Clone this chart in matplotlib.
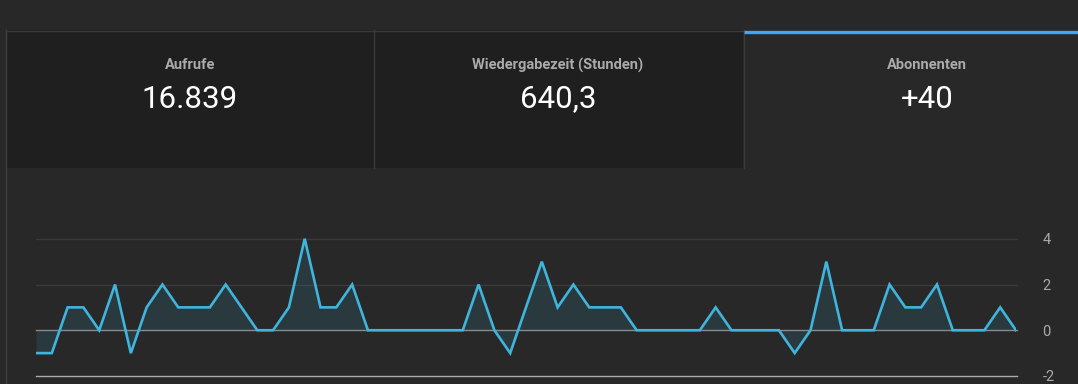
import matplotlib.pyplot as plt
import matplotlib.patches as patches
import numpy as np

# daily subscriber change
subs_per_day = [-1, -1, 1, 1, 0, 2, -1, 1, 2, 1, 1, 1, 2, 1, 0, 0, 1, 4, 1, 1,
                2, 0, 0, 0, 0, 0, 0, 0, 2, 0, -1, 1, 3, 1, 2, 1, 1, 1, 0, 0,
                0, 0, 0, 1, 0, 0, 0, 0, -1, 0, 3, 0, 0, 0, 2, 1, 1, 2, 0, 0,
                0, 1, 0]
y_ticks = [4, 2, 0, -2]

card_labels = ["Aufrufe", "Wiedergabezeit (Stunden)", "Abonnenten"]
card_values = ["16.839", "640,3", "+40"]

BG = "#282828"
CARD_BG = "#1f1f1f"
BORDER = "#3a3a3a"
LINE = "#3fb4dc"

W, H = 1078, 384
fig = plt.figure(figsize=(W / 100, H / 100), dpi=100, facecolor=BG)


def px(x, y):
    # pixel (from top-left) -> figure fraction
    return x / W, 1 - y / H


# background layer for the cards
bg = fig.add_axes([0, 0, 1, 1])
bg.set_xlim(0, W)
bg.set_ylim(H, 0)
bg.axis("off")

card_edges = [(6, 374), (374, 743), (743, 1090)]
for i, (x0, x1) in enumerate(card_edges):
    face = CARD_BG if i < 2 else BG
    bg.add_patch(patches.Rectangle((x0, 30), x1 - x0, 138, facecolor=face,
                                   edgecolor="none"))
# borders
bg.plot([5.5, 5.5], [30, H], color="#404040", lw=1)
bg.plot([5.5, 743], [30.5, 30.5], color=BORDER, lw=1)
bg.plot([374, 374], [30, 168], color=BORDER, lw=1)
bg.plot([743.5, 743.5], [30, 168], color=BORDER, lw=1)
bg.plot([744, W], [32, 32], color="#3ea6ff", lw=2.4, solid_capstyle="butt")

centers = [190, 558, 927]
for cx, lab, val in zip(centers, card_labels, card_values):
    bg.text(cx, 65, lab, ha="center", va="center", color="#aaaaaa",
            fontsize=10.5, fontfamily="Roboto", fontweight="bold")
    bg.text(cx, 99, val, ha="center", va="center", color="#ffffff",
            fontsize=22.5, fontfamily="Roboto")

# chart
unit = (376 - 239) / 6.0
y_bottom = -2 - (H - 376) / unit
y_top = (330 - 180) / unit
x0f, y0f = px(36, H)
x1f, y1f = px(1016, 180)
ax = fig.add_axes([x0f, y0f, x1f - x0f, y1f - y0f])
ax.set_facecolor("none")
days = np.arange(len(subs_per_day))
ax.set_xlim(0, len(subs_per_day) - 1)
ax.set_ylim(y_bottom, y_top)

grid_colors = {4: "#3a3a3a", 2: "#3a3a3a", 0: "#8a8a8a", -2: "#aaaaaa"}
for t in y_ticks:
    ax.axhline(t, xmin=0, xmax=1.001, color=grid_colors[t], lw=1, zorder=1,
               clip_on=False)

ax.fill_between(days, subs_per_day, 0, color=LINE, alpha=0.12, lw=0, zorder=2)
ax.plot(days, subs_per_day, color=LINE, lw=1.9, zorder=3,
        solid_joinstyle="miter")

for s in ax.spines.values():
    s.set_visible(False)
ax.set_xticks([])
ax.yaxis.tick_right()
ax.set_yticks(y_ticks)
ax.set_yticklabels([str(t) for t in y_ticks])
ax.tick_params(axis="y", length=0, pad=19, labelsize=10.5, labelcolor="#aaaaaa")
for lab in ax.get_yticklabels():
    lab.set_fontfamily("Roboto")

fig.savefig("out.png", dpi=100, facecolor=BG)
